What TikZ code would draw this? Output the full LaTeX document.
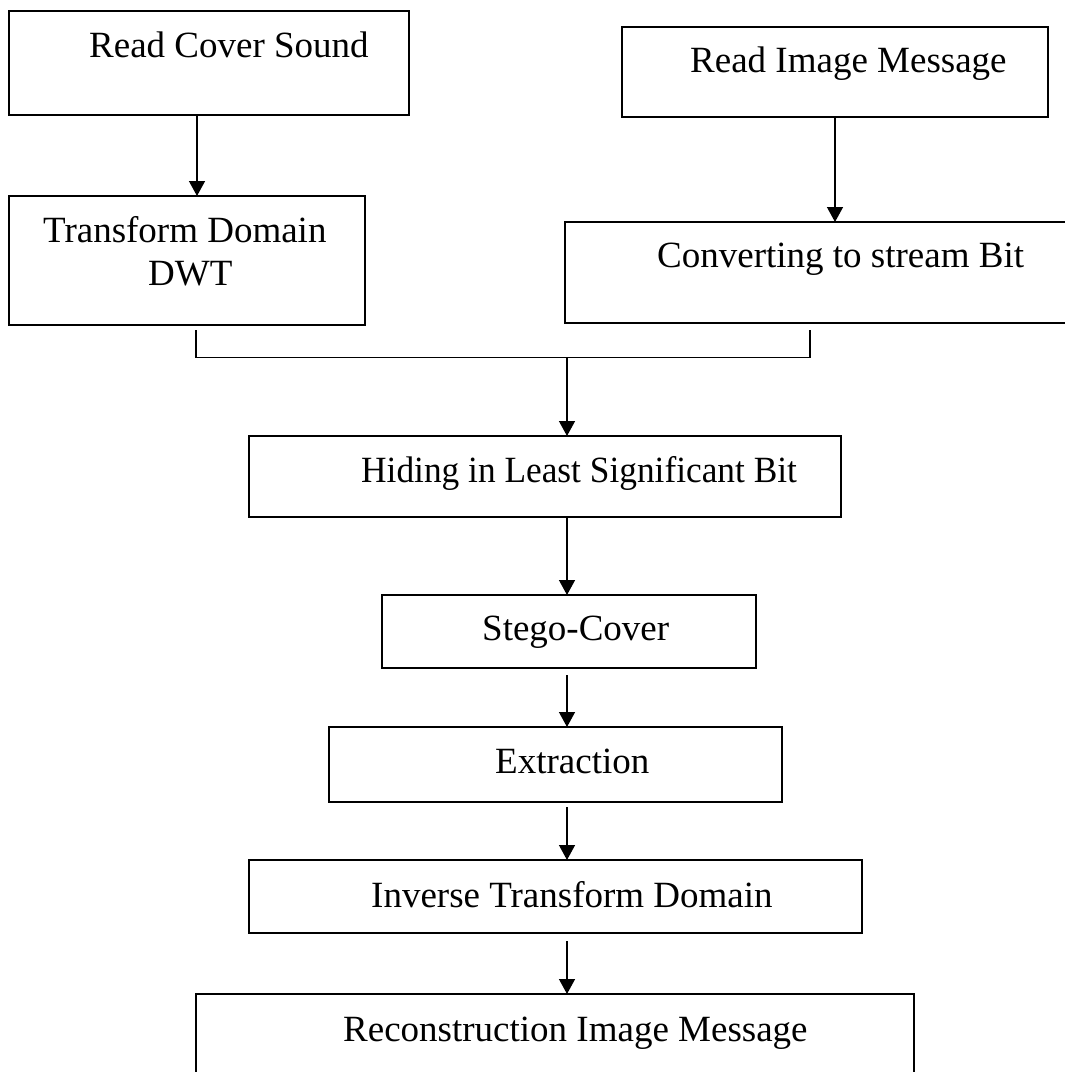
\documentclass[tikz,border=0pt]{standalone}
\usepackage{fontspec}
\setmainfont{Liberation Serif}
\usetikzlibrary{arrows.meta}

\begin{document}
\begin{tikzpicture}[x=1pt,y=-1pt,
  box/.style={draw=black, line width=1.4pt, rectangle, inner sep=0pt, outer sep=0pt},
  lbl/.style={anchor=base west, inner sep=0pt, font=\fontsize{37}{44}\selectfont},
  link/.style={line width=1.4pt},
  arr/.style={line width=1.4pt, -{Triangle[length=15pt,width=16pt]}}]

\useasboundingbox[fill=white] (0,0) rectangle (1065,1072);

% process boxes
\node[box, minimum width=400pt, minimum height=104pt] (cover)   at (209,63)    {};
\node[box, minimum width=426pt, minimum height=90pt]  (image)   at (835,72)    {};
\node[box, minimum width=356pt, minimum height=129pt] (dwt)     at (187,260.5) {};
\node[box, minimum width=510pt, minimum height=101pt] (stream)  at (820,272.5) {};
\node[box, minimum width=592pt, minimum height=81pt]  (hide)    at (545,476.5) {};
\node[box, minimum width=374pt, minimum height=73pt]  (stego)   at (569,631.5) {};
\node[box, minimum width=453pt, minimum height=75pt]  (extract) at (555.5,764.5) {};
\node[box, minimum width=613pt, minimum height=73pt]  (inverse) at (555.5,896.5) {};
\node[box, minimum width=718pt, minimum height=96pt]  (recon)   at (555,1042)  {};

% box labels
\node[lbl] (tcover)   at (89,57)   {Read Cover Sound};
\node[lbl] (timage)   at (690,72)  {Read Image Message};
\node[lbl] (tdwt)     at (43,242)  {Transform Domain};
\node[lbl] (tdwtb)    at (148,285) {DWT};
\node[lbl] (tstream)  at (657,267) {Converting to stream Bit};
\node[lbl] (thide)    at (361,482) {\scalebox{0.955}[1]{Hiding in Least Significant Bit}};
\node[lbl] (tstego)   at (482,640) {Stego-Cover};
\node[lbl] (textract) at (495,773) {Extraction};
\node[lbl] (tinverse) at (371,907) {Inverse Transform Domain};
\node[lbl] (trecon)   at (343,1041){Reconstruction Image Message};

% guide columns for connectors
\coordinate (colL) at (197,0);
\coordinate (colM) at (567,0);
\coordinate (jL) at (196,330);
\coordinate (jR) at (810,330);
\coordinate (jLb) at (196,357.5);
\coordinate (jRb) at (810,357.5);
\coordinate (jM) at (567,357.5);

% top branches
\draw[arr] (cover.south -| colL) -- (dwt.north -| colL);
\draw[arr] (image.south) -- (stream.north -| image.south);

% joining bracket
\draw[link] (jL) -- (jLb) -- (jRb) -- (jR);
\draw[arr] (jM) -- (hide.north -| colM);

% main chain
\draw[arr] (hide.south -| colM) -- (stego.north -| colM);
\draw[arr] ([yshift=-7pt]stego.south -| colM) -- (extract.north -| colM);
\draw[arr] ([yshift=-5pt]extract.south -| colM) -- (inverse.north -| colM);
\draw[arr] ([yshift=-8pt]inverse.south -| colM) -- (recon.north -| colM);

\end{tikzpicture}
\end{document}
